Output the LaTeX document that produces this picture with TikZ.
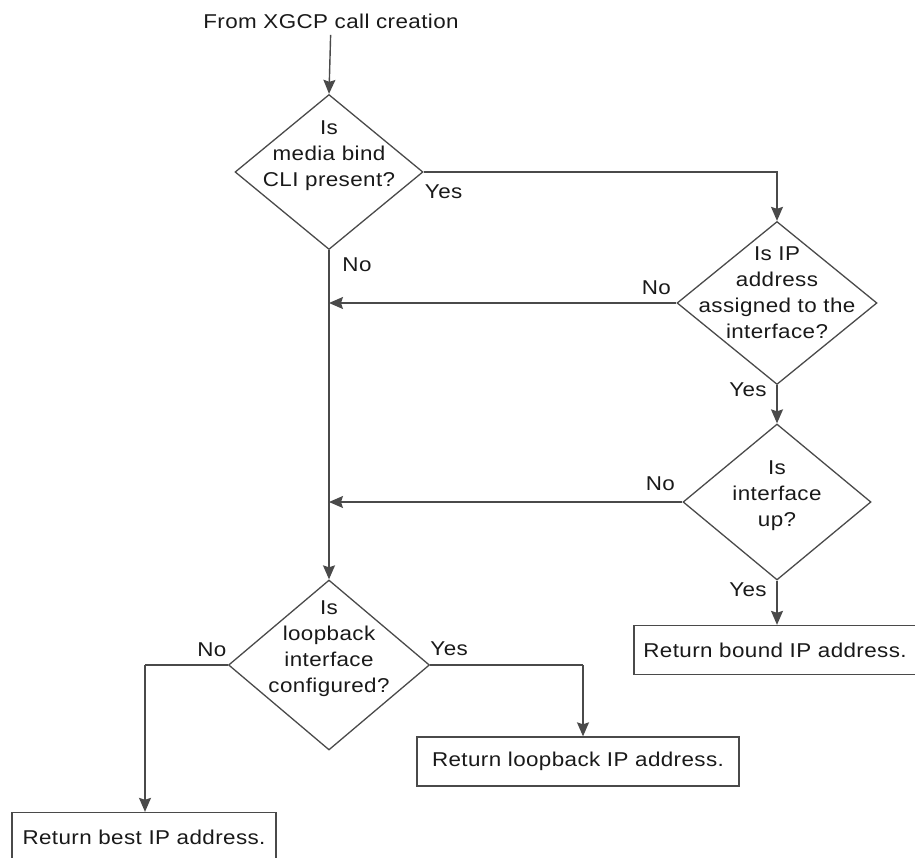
\documentclass[tikz,border=0pt]{standalone}
\usepackage{fontspec}
\setmainfont[LetterSpace=2, FakeStretch=1.12]{Liberation Sans}
\usetikzlibrary{calc, positioning}
\usetikzlibrary{arrows.meta}
\usetikzlibrary{shapes.geometric}
\definecolor{linegray}{HTML}{4A4A4A}

\begin{document}
\begin{tikzpicture}[x=1pt, y=-1pt,
  every node/.style={font=\fontsize{20}{26}\selectfont, text=black!90},
  decision/.style={diamond, draw=linegray, line width=1.3pt, inner sep=0pt},
  qtext/.style={align=center, inner sep=0pt},
  result/.style={rectangle, draw=linegray, line width=1.3pt, inner sep=0pt, minimum height=49pt},
  flow/.style={draw=linegray, line width=1.4pt, -{Stealth[length=14pt, width=12pt, inset=2pt]}},
  link/.style={draw=linegray, line width=1.4pt},
  branch/.style={inner sep=0pt}]
\useasboundingbox (0,0) rectangle (915,858);

\node (start) at (331,21) {From XGCP call creation};

\node[decision, minimum width=188pt, minimum height=155pt] (q1) at (329,172) {};
\node[decision, minimum width=200pt, minimum height=163pt] (q2) at (777,303) {};
\node[decision, minimum width=188pt, minimum height=156pt] (q3) at (777,502) {};
\node[decision, minimum width=201pt, minimum height=170pt] (q4) at (329,665) {};

\node[qtext] (q1txt) at ([yshift=16pt]q1.center) {Is\\media bind\\CLI present?};
\node[qtext] (q2txt) at ([yshift=10pt]q2.center) {Is IP\\address\\assigned to the\\interface?};
\node[qtext] (q3txt) at ([yshift=6pt]q3.center) {Is\\interface\\up?};
\node[qtext] (q4txt) at ([yshift=16pt]q4.center) {Is\\loopback\\interface\\configured?};

\node[result, minimum width=282pt] (bound) at (775,650) {Return bound IP address.};
\node[result, minimum width=322pt] (loop) at (578,761.5) {Return loopback IP address.};
\node[result, minimum width=264pt] (best) at (144,837) {Return best IP address.};

\coordinate (q4no) at (145,665);
\coordinate (q4yes) at (583,665);

\draw[flow, shorten <=3pt] (start) -- (q1.north);
\draw[flow] (q1.east) -| (q2.north);
\draw[flow] (q1.south) -- (q4.north);
\draw[flow] (q2.west) -- (q2.west -| q1.south);
\draw[flow] (q2.south) -- (q3.north);
\draw[flow] (q3.west) -- (q3.west -| q1.south);
\draw[flow] (q3.south) -- (q3.south |- bound.north);
\draw[link] (q4.west) -- (q4no);
\draw[flow] (q4no) -- (q4no |- best.north);
\draw[link] (q4.east) -- (q4yes);
\draw[flow] (q4yes) -- (q4yes |- loop.north);

\node[branch] (q1y) at ([shift={(20,20)}]q1.east) {Yes};
\node[branch] (q1n) at ([shift={(28,15)}]q1.south) {No};
\node[branch] (q2n) at ([shift={(-20,-15)}]q2.west) {No};
\node[branch] (q2y) at ([shift={(-29,5)}]q2.south) {Yes};
\node[branch] (q3n) at ([shift={(-22,-18)}]q3.west) {No};
\node[branch] (q3y) at ([shift={(-29,9)}]q3.south) {Yes};
\node[branch] (q4n) at ([shift={(-16,-15)}]q4.west) {No};
\node[branch] (q4y) at ([shift={(19,-16)}]q4.east) {Yes};
\end{tikzpicture}
\end{document}
